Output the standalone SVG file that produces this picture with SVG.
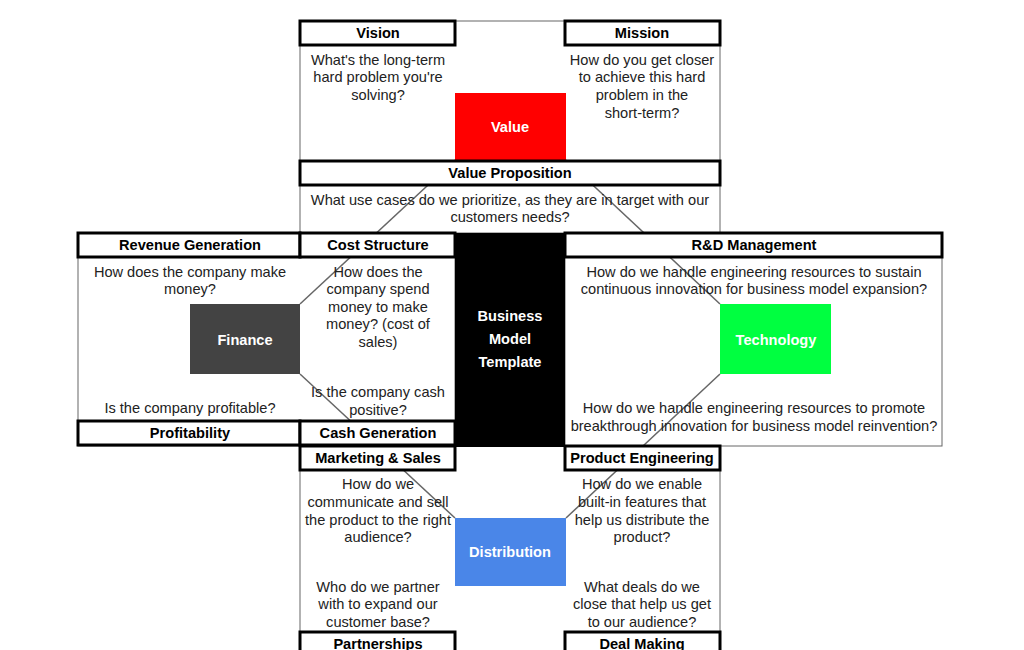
<svg xmlns="http://www.w3.org/2000/svg" width="1024" height="650" viewBox="0 0 1024 650">
<style>
.bg{fill:#fff}
.area{fill:#fff;stroke:#666;stroke-width:1}
.hdr{fill:#fff;stroke:#000;stroke-width:3}
.h{font-family:"Liberation Sans",Arial,sans-serif;font-size:14.6px;font-weight:bold;fill:#000;text-anchor:middle}
.t{font-family:"Liberation Sans",Arial,sans-serif;font-size:14.6px;fill:#222;text-anchor:middle}
.w{font-family:"Liberation Sans",Arial,sans-serif;font-size:14.6px;font-weight:bold;fill:#fff;text-anchor:middle}
.conn{stroke:#666;stroke-width:1.5;fill:none}
</style>
<rect class="bg" width="1024" height="650"/>
<g id="areas">
<rect class="area" x="300" y="21" width="420" height="212"/>
<rect class="area" x="78" y="233" width="377" height="213"/>
<rect class="area" x="565" y="233" width="377" height="213"/>
<rect class="area" x="300" y="446" width="420" height="210"/>
</g>
<g id="center">
<rect x="455" y="233" width="110" height="214" fill="#000"/>
<text class="w" x="510" y="321">Business</text>
<text class="w" x="510" y="344">Model</text>
<text class="w" x="510" y="367">Template</text>
</g>
<g id="connectors">
<line class="conn" x1="455" y1="160" x2="300" y2="304"/>
<line class="conn" x1="566" y1="160" x2="720" y2="304"/>
<line class="conn" x1="300" y1="374" x2="455" y2="518"/>
<line class="conn" x1="720" y1="374" x2="566" y2="518"/>
</g>
<g id="vision">
<rect class="hdr" x="300" y="21" width="155" height="24"/>
<text class="h" x="378" y="38">Vision</text>
<text class="t" x="378" y="65">What's the long-term</text>
<text class="t" x="378" y="82">hard problem you're</text>
<text class="t" x="378" y="100">solving?</text>
</g>
<g id="mission">
<rect class="hdr" x="565" y="21" width="155" height="24"/>
<text class="h" x="642" y="38">Mission</text>
<text class="t" x="642" y="65">How do you get closer</text>
<text class="t" x="642" y="82">to achieve this hard</text>
<text class="t" x="642" y="100">problem in the</text>
<text class="t" x="642" y="118">short-term?</text>
</g>
<g id="value">
<rect x="455" y="93" width="111" height="67" fill="#ff0000"/>
<text class="w" x="510" y="132">Value</text>
</g>
<g id="value-proposition">
<rect class="hdr" x="300" y="161" width="420" height="24"/>
<text class="h" x="510" y="178">Value Proposition</text>
<text class="t" x="510" y="205">What use cases do we prioritize, as they are in target with our</text>
<text class="t" x="510" y="222">customers needs?</text>
</g>
<g id="revenue-generation">
<rect class="hdr" x="78" y="233" width="222" height="24"/>
<text class="h" x="190" y="250">Revenue Generation</text>
<text class="t" x="190" y="277">How does the company make</text>
<text class="t" x="190" y="294">money?</text>
</g>
<g id="cost-structure">
<rect class="hdr" x="300" y="233" width="155" height="24"/>
<text class="h" x="378" y="250">Cost Structure</text>
<text class="t" x="378" y="277">How does the</text>
<text class="t" x="378" y="294">company spend</text>
<text class="t" x="378" y="312">money to make</text>
<text class="t" x="378" y="329">money? (cost of</text>
<text class="t" x="378" y="347">sales)</text>
</g>
<g id="finance">
<rect x="190" y="304" width="110" height="70" fill="#434343"/>
<text class="w" x="245" y="345">Finance</text>
</g>
<g id="profitability">
<text class="t" x="190" y="413">Is the company profitable?</text>
<rect class="hdr" x="78" y="421" width="222" height="24"/>
<text class="h" x="190" y="438">Profitability</text>
</g>
<g id="cash-generation">
<text class="t" x="378" y="397">Is the company cash</text>
<text class="t" x="378" y="415">positive?</text>
<rect class="hdr" x="300" y="421" width="155" height="24"/>
<text class="h" x="378" y="438">Cash Generation</text>
</g>
<g id="rd-management">
<rect class="hdr" x="565" y="233" width="377" height="24"/>
<text class="h" x="754" y="250">R&amp;D Management</text>
<text class="t" x="754" y="277">How do we handle engineering resources to sustain</text>
<text class="t" x="754" y="294">continuous innovation for business model expansion?</text>
<text class="t" x="754" y="413">How do we handle engineering resources to promote</text>
<text class="t" x="754" y="431">breakthrough innovation for business model reinvention?</text>
</g>
<g id="technology">
<rect x="720" y="304" width="111" height="70" fill="#00ff40"/>
<text class="w" x="776" y="345">Technology</text>
</g>
<g id="marketing-sales">
<rect class="hdr" x="300" y="446" width="155" height="24"/>
<text class="h" x="378" y="463">Marketing &amp; Sales</text>
<text class="t" x="378" y="489">How do we</text>
<text class="t" x="378" y="507">communicate and sell</text>
<text class="t" x="378" y="525">the product to the right</text>
<text class="t" x="378" y="542">audience?</text>
</g>
<g id="product-engineering">
<rect class="hdr" x="565" y="446" width="155" height="24"/>
<text class="h" x="642" y="463">Product Engineering</text>
<text class="t" x="642" y="489">How do we enable</text>
<text class="t" x="642" y="507">built-in features that</text>
<text class="t" x="642" y="525">help us distribute the</text>
<text class="t" x="642" y="542">product?</text>
</g>
<g id="distribution">
<rect x="455" y="518" width="111" height="68" fill="#4a86e8"/>
<text class="w" x="510" y="557">Distribution</text>
</g>
<g id="partnerships">
<text class="t" x="378" y="592">Who do we partner</text>
<text class="t" x="378" y="609">with to expand our</text>
<text class="t" x="378" y="627">customer base?</text>
<rect class="hdr" x="300" y="632" width="155" height="24"/>
<text class="h" x="378" y="649">Partnerships</text>
</g>
<g id="deal-making">
<text class="t" x="642" y="592">What deals do we</text>
<text class="t" x="642" y="609">close that help us get</text>
<text class="t" x="642" y="627">to our audience?</text>
<rect class="hdr" x="565" y="632" width="155" height="24"/>
<text class="h" x="642" y="649">Deal Making</text>
</g>
</svg>
